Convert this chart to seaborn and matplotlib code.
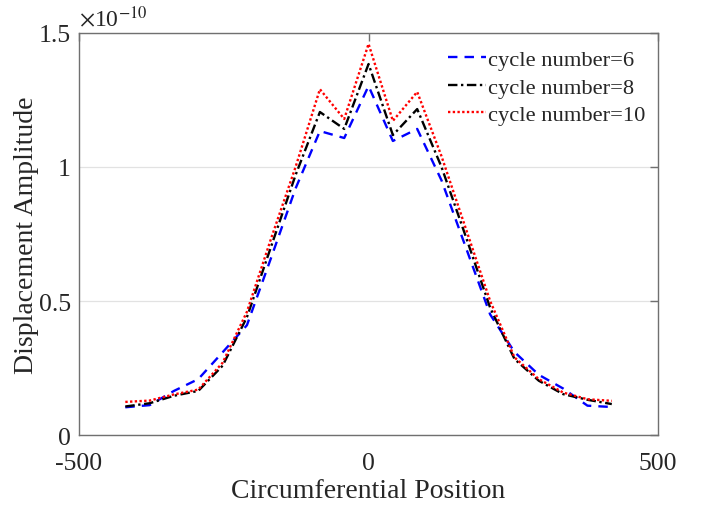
import numpy as np
import pandas as pd
import seaborn as sns
import matplotlib
matplotlib.use("Agg")
import matplotlib.pyplot as plt

# ---- data (amplitudes in units of 1e-10) ----
positions = [-420, -378, -336, -294, -252, -210, -168, -126, -84, -42, 0,
             42, 84, 126, 168, 210, 252, 294, 336, 378, 420]
cycle6 = [0.104, 0.112, 0.165, 0.209, 0.309, 0.41, 0.663, 0.92, 1.134, 1.108, 1.302,
          1.097, 1.142, 0.95, 0.70, 0.45, 0.31, 0.225, 0.174, 0.11, 0.105]
cycle8 = [0.107, 0.119, 0.147, 0.165, 0.259, 0.44, 0.705, 0.97, 1.205, 1.142, 1.384,
          1.119, 1.216, 1.0, 0.74, 0.475, 0.284, 0.203, 0.153, 0.132, 0.116]
cycle10 = [0.124, 0.129, 0.152, 0.17, 0.27, 0.46, 0.735, 1.0, 1.29, 1.179, 1.459,
           1.172, 1.28, 1.04, 0.77, 0.50, 0.29, 0.209, 0.159, 0.134, 0.128]
labels = ["cycle number=6", "cycle number=8", "cycle number=10"]
x_ticks = [-500, 0, 500]
y_ticks = [0, 0.5, 1, 1.5]

sns.set_style("white")
plt.rcParams["font.family"] = ["Liberation Serif", "DejaVu Serif"]
plt.rcParams["mathtext.fontset"] = "stix"

fig = plt.figure(figsize=(7.02, 5.06), dpi=100)
ax = fig.add_axes([0.1125, 0.138, 0.825, 0.795])

styles = [("#0000ff", (0, (4, 3))), ("#000000", (0, (4, 1.5, 1, 1.5))), ("#ff0000", (0, (1, 1)))]
for vals, lab, (col, ls) in zip([cycle6, cycle8, cycle10], labels, styles):
    df = pd.DataFrame({"pos": positions, "amp": vals})
    sns.lineplot(data=df, x="pos", y="amp", ax=ax, color=col, linestyle=ls,
                 linewidth=1.7, label=lab)

ax.set_xlim(-500, 500)
ax.set_ylim(0, 1.5)
ax.set_xticks(x_ticks)
ax.set_xticklabels([str(t) for t in x_ticks])
ax.set_yticks(y_ticks)
ax.set_yticklabels(["0", "0.5", "1", "1.5"])
ax.yaxis.grid(True, color="#e2e2e2", linewidth=0.9)
ax.xaxis.grid(False)
ax.set_axisbelow(True)

for sp in ax.spines.values():
    sp.set_visible(True)
    sp.set_color("#707070")
    sp.set_linewidth(1.0)
ax.tick_params(direction="in", length=6, width=1.0, color="#707070",
               top=True, right=True, labelsize=18.5, labelcolor="#262626")
ax.tick_params(axis="x", pad=12)
ax.tick_params(axis="y", pad=6)

ax.set_xlabel("Circumferential Position", fontsize=20, color="#262626", labelpad=3)
ax.set_ylabel("Displacement Amplitude", fontsize=20, color="#262626", labelpad=0)

ax.text(0.0, 1.005, r"$\times$10$^{-10}$", transform=ax.transAxes, fontsize=17,
        color="#262626", ha="left", va="bottom")

leg = ax.legend(loc="upper right", bbox_to_anchor=(1.0, 0.99), frameon=False,
                fontsize=16.2, handlelength=1.7, handletextpad=0.1,
                labelspacing=0.3, borderaxespad=0.15)
for t in leg.get_texts():
    t.set_color("#262626")

fig.savefig("out.png", dpi=100)
